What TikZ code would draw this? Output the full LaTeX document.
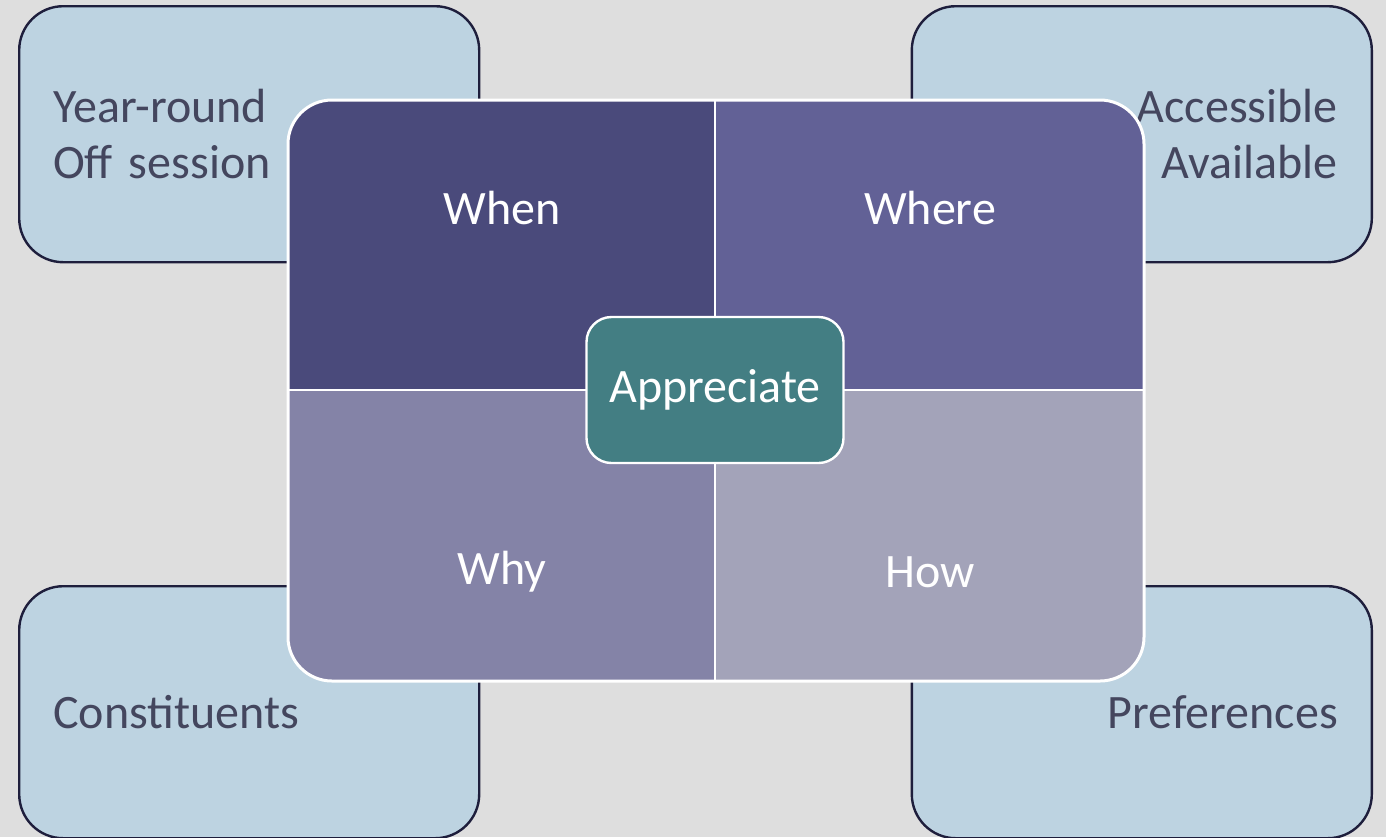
\documentclass[tikz,border=0pt]{standalone}
\usepackage{fontspec}
\setmainfont{Carlito}
\usetikzlibrary{positioning}

\definecolor{bgGray}{HTML}{DEDEDE}
\definecolor{boxBlue}{HTML}{BDD3E1}
\definecolor{boxLine}{HTML}{1E1E3C}
\definecolor{txtDark}{HTML}{44465E}
\definecolor{whenC}{HTML}{4A4A7B}
\definecolor{whereC}{HTML}{626196}
\definecolor{whyC}{HTML}{8483A7}
\definecolor{howC}{HTML}{A3A3B9}
\definecolor{apprC}{HTML}{437E83}

\tikzset{
  bigfont/.style={font=\fontsize{24}{28}\selectfont},
  cornerbox/.style={draw=boxLine, fill=boxBlue, line width=1.2pt,
    rounded corners=22pt, minimum height=128pt, text width=196pt,
    inner xsep=17pt, inner ysep=0pt, text=txtDark, bigfont},
  quadtext/.style={text=white, bigfont},
  apprbox/.style={draw=white, fill=apprC, line width=1.2pt,
    rounded corners=12.5pt, minimum width=128.5pt, minimum height=73pt,
    text=white, bigfont},
}

\begin{document}
\begin{tikzpicture}[x=0.5pt, y=-0.5pt]

% background
\fill[bgGray] (0,0) rectangle (1386,837);
\useasboundingbox (0,0) rectangle (1386,837);

%% corner boxes
\node[cornerbox, anchor=north west, align=left] (yearround) at (18,5) {Year-round\\Off session};
\node[cornerbox, anchor=north east, align=right] (access) at (1373,5) {Accessible\\Available};
\node[cornerbox, anchor=north west, align=left, minimum height=126pt] (constit) at (18,585) {Constituents};
\node[cornerbox, anchor=north east, align=right, minimum height=126pt] (prefs) at (1373,585) {Preferences};

%% the four quadrants
\begin{scope}
  \clip[rounded corners=22pt] (288,100) rectangle (1144,681);
  \fill[whenC]  (288,100) rectangle (715,390);
  \fill[whereC] (715,100) rectangle (1144,390);
  \fill[whyC]   (288,390) rectangle (715,681);
  \fill[howC]   (715,390) rectangle (1144,681);
\end{scope}
\draw[white, line width=1.2pt] (715,100) -- (715,681) (288,390) -- (1144,390);
\draw[white, line width=1.5pt, rounded corners=22pt] (288,100) rectangle (1144,681);

\node[quadtext] (when)  at (502,208) {When};
\node[quadtext] (where) at (930,208) {Where};
\node[quadtext] (why)   at (502,572) {Why};
\node[quadtext] (how)   at (930,572) {How};

%% centre
\node[apprbox] (appr) at (715,390) {Appreciate};

\end{tikzpicture}
\end{document}
